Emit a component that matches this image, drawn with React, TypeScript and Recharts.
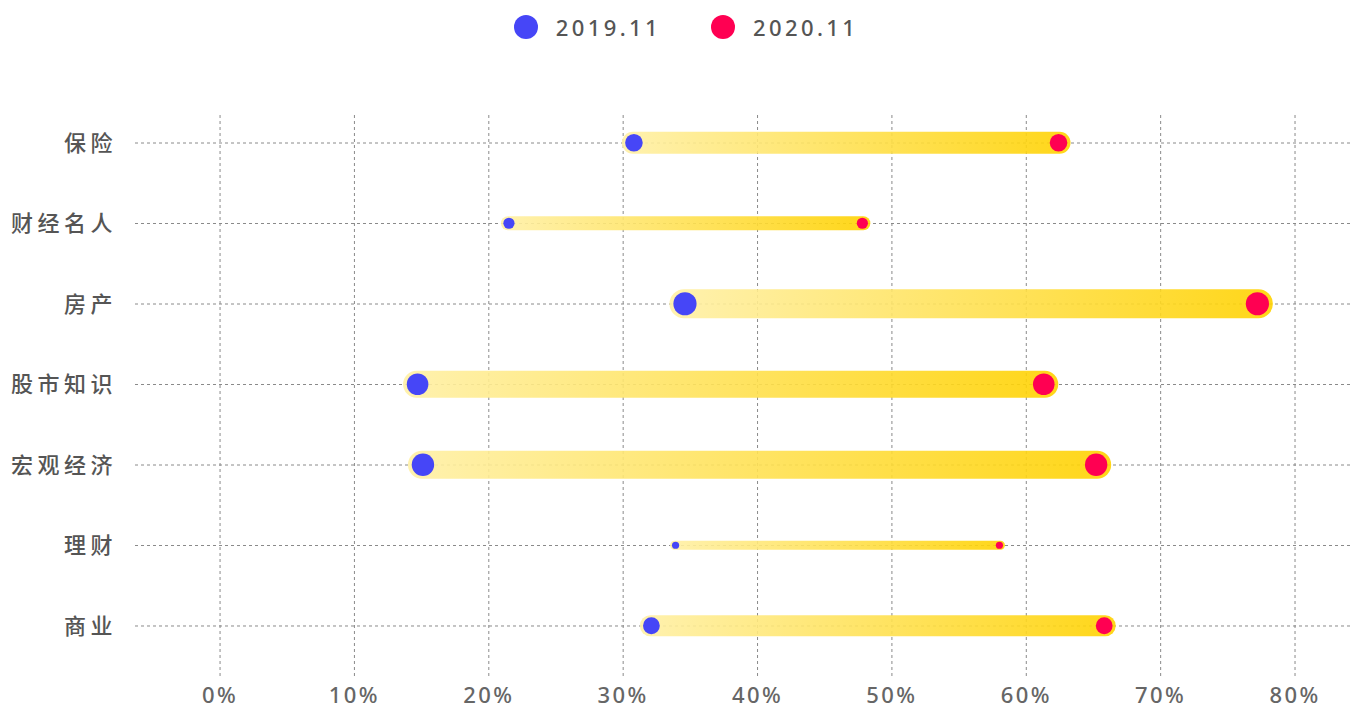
import React from 'react';
import { ComposedChart, Bar, XAxis, YAxis, CartesianGrid } from 'recharts';

// dumbbell: 2019.11 -> 2020.11 share per topic, bar thickness = attention volume

const categories = ['保险', '财经名人', '房产', '股市知识', '宏观经济', '理财', '商业'];
const values2019 = [30.8, 21.5, 34.6, 14.7, 15.1, 33.9, 32.1];
const values2020 = [62.4, 47.8, 77.2, 61.3, 65.2, 58.0, 65.8];
const volume = [22, 14, 29, 27, 28, 9, 21];
const xTicks = [0, 10, 20, 30, 40, 50, 60, 70, 80];
const yTicks = [0, 1, 2, 3, 4, 5, 6];
const legendItems = [
  { label: '2019.11', color: '#4646F7' },
  { label: '2020.11', color: '#FF0052' },
];

const FONT = '"Noto Sans", "Noto Sans CJK SC", sans-serif';

interface Row {
  idx: number;
  name: string;
  range: [number, number];
  volume: number;
}

const data: Row[] = categories.map((name, i) => ({
  idx: i,
  name,
  range: [values2019[i], values2020[i]],
  volume: volume[i],
}));

const Dumbbell = (props: any) => {
  const { x, y, width, height, payload } = props;
  if (x == null || payload == null) return null;
  const thick = payload.volume;
  const r = thick * 0.4;
  const cy = y + height / 2;
  const x1 = x;
  const x2 = x + width;
  const pad = thick / 2 + 1;
  return (
    <g>
      <rect
        x={x1 - pad}
        y={cy - thick / 2}
        width={x2 - x1 + pad * 2}
        height={thick}
        rx={thick / 2}
        ry={thick / 2}
        fill="url(#barGrad)"
        fillOpacity={0.9}
      />
      <circle cx={x1} cy={cy} r={r} fill={legendItems[0].color} />
      <circle cx={x2} cy={cy} r={r} fill={legendItems[1].color} />
    </g>
  );
};

const App: React.FC = () => {
  return (
    <div style={{ position: 'absolute', left: 0, top: 0, width: 1352, height: 711, fontFamily: FONT }}>
      <div
        style={{
          position: 'absolute',
          top: 14,
          left: 0,
          width: 1352,
          display: 'flex',
          justifyContent: 'center',
          alignItems: 'center',
          gap: 50,
          paddingLeft: 20,
          boxSizing: 'border-box',
        }}
      >
        {legendItems.map((it) => (
          <div key={it.label} style={{ display: 'flex', alignItems: 'center' }}>
            <span
              style={{
                width: 24,
                height: 24,
                borderRadius: 12,
                background: it.color,
                display: 'inline-block',
                marginRight: 18,
              }}
            />
            <span style={{ fontSize: 22, color: '#555', letterSpacing: 3.4, lineHeight: '26px', fontWeight: 500 }}>
              {it.label}
            </span>
          </div>
        ))}
      </div>
      <ComposedChart
        width={1352}
        height={711}
        data={data}
        layout="vertical"
        margin={{ top: 115, right: 0, bottom: 0, left: 0 }}
      >
        <defs>
          <linearGradient id="barGrad" x1="0" y1="0" x2="1" y2="0">
            <stop offset="0%" stopColor="#FFF0A6" />
            <stop offset="100%" stopColor="#FFD200" />
          </linearGradient>
        </defs>
        <CartesianGrid
          stroke="#8a8a8a"
          strokeDasharray="3 3"
          verticalValues={xTicks}
          horizontalValues={yTicks}
        />
        <XAxis
          type="number"
          domain={[-6.33, 84.24]}
          ticks={xTicks}
          allowDataOverflow
          tickFormatter={(v: number) => `${v}%`}
          axisLine={false}
          tickLine={false}
          tickSize={0}
          tickMargin={9}
          height={33}
          tick={{ fontSize: 22, fill: '#666', letterSpacing: 2.4, fontFamily: FONT, fontWeight: 500 }}
        />
        <YAxis
          type="number"
          dataKey="idx"
          domain={[-0.348, 6.646]}
          ticks={yTicks}
          allowDataOverflow
          tickFormatter={(v: number) => categories[v] ?? ''}
          axisLine={false}
          tickLine={false}
          tickSize={0}
          tickMargin={18}
          width={135}
          tick={{ fontSize: 22, fill: '#555', letterSpacing: 4.5, fontFamily: FONT, fontWeight: 500 }}
        />
        <Bar dataKey="range" barSize={30} shape={Dumbbell} isAnimationActive={false} />
      </ComposedChart>
    </div>
  );
};

export default App;
